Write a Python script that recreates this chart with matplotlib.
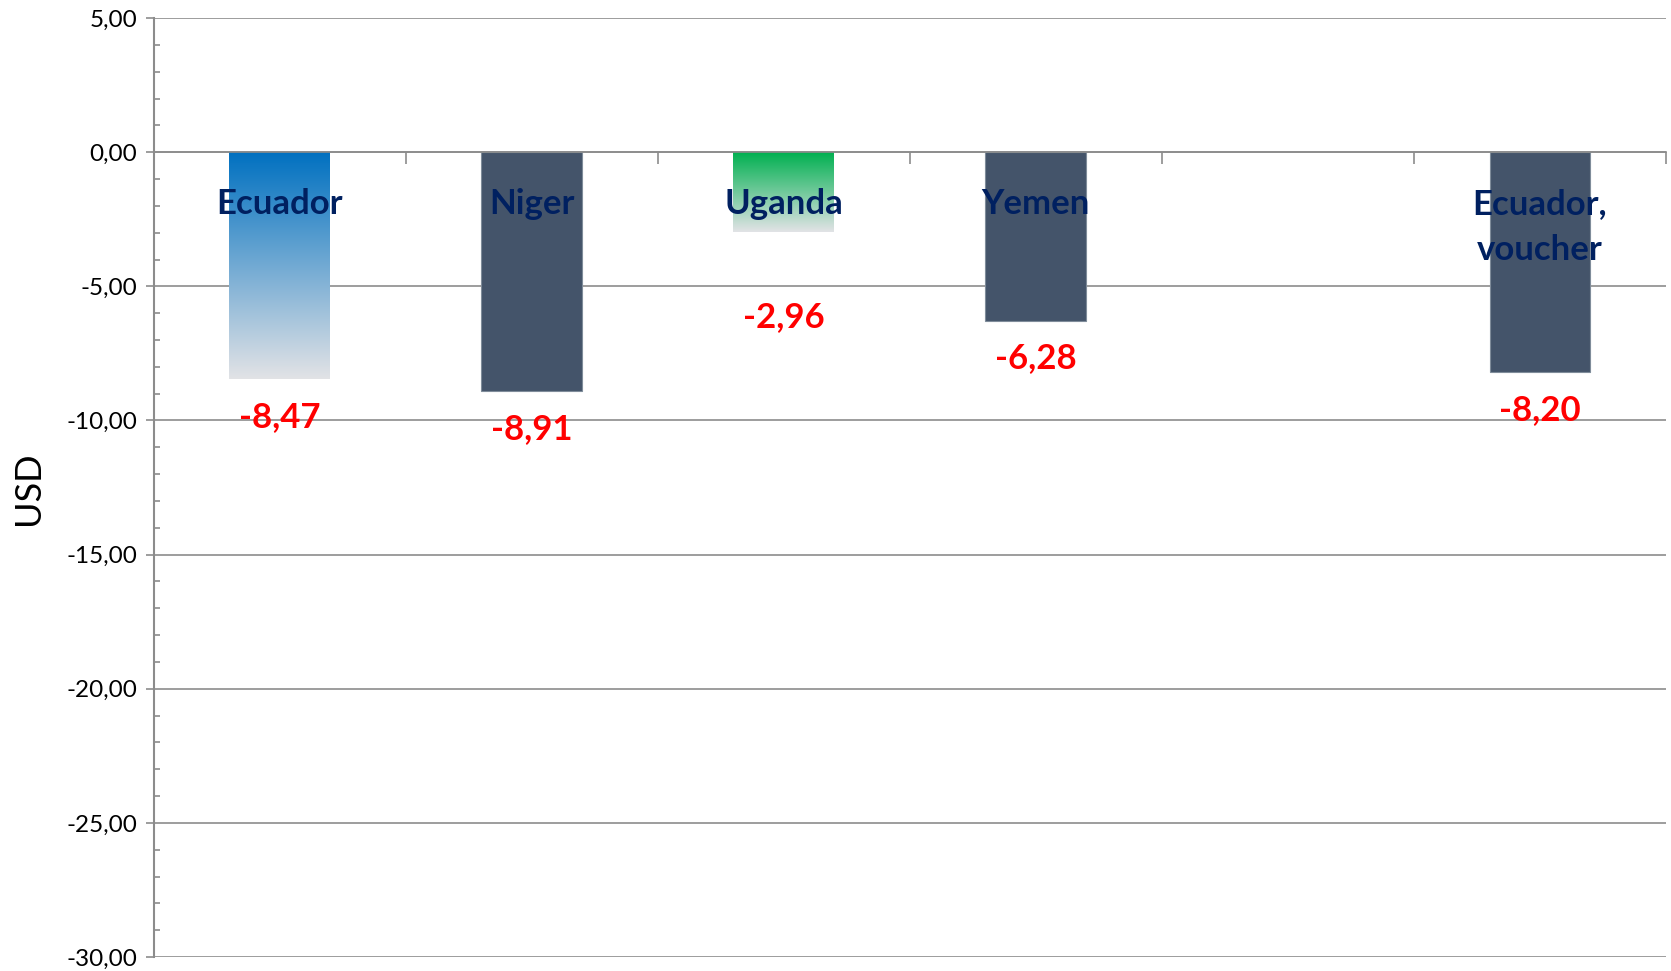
import numpy as np
import matplotlib
matplotlib.use("Agg")
import matplotlib.pyplot as plt
from matplotlib.colors import to_rgb
from matplotlib.ticker import MultipleLocator

# data
countries = ["Ecuador", "Niger", "Uganda", "Yemen", "", "Ecuador,\nvoucher"]
values = [-8.47, -8.91, -2.96, -6.28, np.nan, -8.20]
yticks = [5, 0, -5, -10, -15, -20, -25, -30]

# style
grad_top = {0: "#0070C0", 2: "#00B050"}
grad_bottom = "#E2E3E6"
solid_color = "#44546A"
label_color = "#002060"
value_color = "#FF0000"
grid_color = "#8C8C8C"
value_gap = 1.4
value_y_fixed = {2: -6.15}   # Uganda label sits lower in the original

plt.rcParams['font.family'] = ['Lato', 'DejaVu Sans']

fig = plt.figure(figsize=(16.71, 9.71), dpi=100)
ax = fig.add_axes([0.092, 0.0144, 0.905, 0.967])

x = np.arange(len(countries))
width = 0.40
bars = ax.bar(x, values, width=width, color=solid_color, edgecolor="#7F8C9A",
              linewidth=0.8, zorder=3)

# gradient fills for Ecuador and Uganda
for i, top in grad_top.items():
    b = bars[i]
    b.set_facecolor("none")
    b.set_edgecolor("none")
    c0 = np.array(to_rgb(top))
    c1 = np.array(to_rgb(grad_bottom))
    t = np.linspace(0, 1, 256)[:, None]
    img = (c0 * (1 - t) + c1 * t)[:, None, :]
    im = ax.imshow(img, extent=(x[i] - width / 2, x[i] + width / 2, values[i], 0),
                   origin="upper", aspect="auto", zorder=3)
    im.set_clip_path(b)

# category names inside the plot
for i, name in enumerate(countries):
    if not name:
        continue
    ax.text(x[i], -1.32, name, ha="center", va="top", fontsize=25,
            fontweight="bold", color=label_color, zorder=5, linespacing=1.55)

# value labels
for i, v in enumerate(values):
    if np.isnan(v):
        continue
    y = value_y_fixed.get(i, v - value_gap)
    ax.text(x[i], y, f"{v:.2f}".replace(".", ","), ha="center", va="center",
            fontsize=25, fontweight="bold", color=value_color, zorder=5)

ax.set_xlim(-0.5, len(countries) - 0.5)
ax.set_ylim(-30, 5)

ax.set_yticks(yticks)
ax.set_yticklabels([f"{t:.2f}".replace(".", ",") for t in yticks], fontsize=17.5)
ax.yaxis.set_minor_locator(MultipleLocator(1))
ax.tick_params(axis="y", which="major", direction="out", length=6, width=1.2,
               color=grid_color, pad=6)
ax.tick_params(axis="y", which="minor", direction="in", length=4.5, width=1.2,
               color=grid_color)

ax.set_xticks(np.arange(-0.5, len(countries), 1))
ax.set_xticklabels([])
ax.tick_params(axis="x", which="major", direction="out", length=8.5, width=1.2,
               color=grid_color)

ax.grid(axis="y", color=grid_color, linewidth=1.2, zorder=0)
ax.set_axisbelow(True)

for s in ["top", "right"]:
    ax.spines[s].set_visible(False)
ax.spines["left"].set_color(grid_color)
ax.spines["left"].set_linewidth(1.5)
ax.spines["bottom"].set_position(("data", 0))
ax.spines["bottom"].set_color(grid_color)
ax.spines["bottom"].set_linewidth(1.2)
ax.spines["bottom"].set_zorder(4)

fig.text(0.017, 0.497, "USD", rotation=90, ha="center", va="center", fontsize=26)

fig.savefig("out.png", dpi=100)
